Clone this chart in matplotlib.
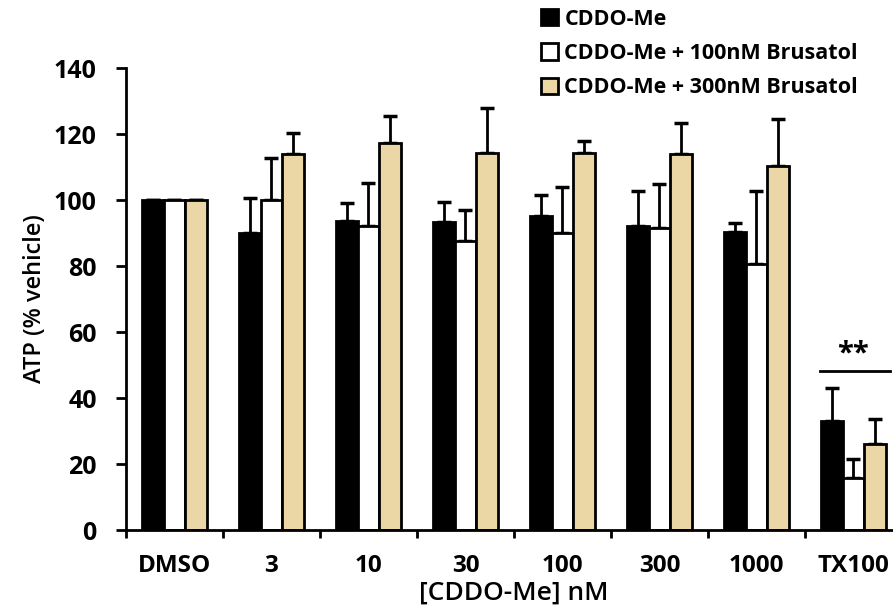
import matplotlib
matplotlib.use("Agg")
import matplotlib.pyplot as plt
import numpy as np

# data
categories = ["DMSO", "3", "10", "30", "100", "300", "1000", "TX100"]
cddo_mean = [100, 90.0, 93.6, 93.3, 95.2, 92.1, 90.2, 33.1]
cddo_err = [0, 10.6, 5.5, 6.1, 6.3, 10.7, 2.7, 9.9]
bru100_mean = [100, 100.0, 92.1, 87.6, 90.0, 91.4, 80.7, 15.8]
bru100_err = [0, 12.7, 13.1, 9.4, 13.9, 13.4, 22.1, 5.6]
bru300_mean = [100, 113.9, 117.3, 114.2, 114.3, 113.9, 110.4, 26.1]
bru300_err = [0, 6.4, 8.2, 13.7, 3.7, 9.3, 14.1, 7.5]
series_names = ["CDDO-Me", "CDDO-Me + 100nM Brusatol", "CDDO-Me + 300nM Brusatol"]

tan = "#EBD6A5"
plt.rcParams['font.family'] = ['Open Sans', 'DejaVu Sans']

fig = plt.figure(figsize=(8.93, 6.13), dpi=100)
ax = fig.add_axes([126 / 893, 83 / 613, 776 / 893, 462 / 613])

x = np.arange(len(categories))
width = 0.22

series = [
    (cddo_mean, cddo_err, "black", series_names[0]),
    (bru100_mean, bru100_err, "white", series_names[1]),
    (bru300_mean, bru300_err, tan, series_names[2]),
]
for i, (mean, err, col, name) in enumerate(series):
    offset = (i - 1) * width
    ax.bar(x + offset, mean, width, color=col, edgecolor="black", linewidth=2,
           label=name, zorder=2)
    ax.errorbar(x + offset, mean, yerr=[np.zeros(len(err)), err], fmt="none",
                ecolor="black", elinewidth=2, capsize=5, capthick=2.5, zorder=1)

# significance marker over TX100
ax.plot([6.65, 7.38], [48.2, 48.2], color="black", lw=2, clip_on=False)
ax.text(6.99, 49, "**", ha="center", va="bottom", fontsize=21, fontweight="bold")

ax.set_xlim(-0.5, 7.5)
ax.set_ylim(0, 140)
ax.set_yticks(np.arange(0, 141, 20))
ax.set_xticks(x)
ax.set_xticklabels(categories)
ax.set_xticks(np.arange(-0.5, 7.6, 1), minor=True)
ax.tick_params(axis="x", which="major", length=0, pad=17, labelsize=17.5)
ax.tick_params(axis="x", which="minor", length=6, width=2, direction="out")
ax.tick_params(axis="y", length=7, width=2, labelsize=18, pad=14)
for lab in ax.get_xticklabels() + ax.get_yticklabels():
    lab.set_fontweight("bold")

for s in ["top", "right"]:
    ax.spines[s].set_visible(False)
for s in ["left", "bottom"]:
    ax.spines[s].set_linewidth(2)

ax.set_ylabel("ATP (% vehicle)", fontsize=17, fontweight="semibold", labelpad=5)
ax.set_xlabel("[CDDO-Me] nM", fontsize=19, fontweight="semibold", labelpad=2)

handles, labels = ax.get_legend_handles_labels()
fig.legend(handles, labels, loc="upper left", bbox_to_anchor=(532 / 893, 1.0),
           frameon=False, prop={"size": 15.5, "weight": "bold"}, borderaxespad=0,
           handlelength=0.8, handleheight=0.8, handletextpad=0.3, labelspacing=0.62)

fig.savefig("out.png", dpi=100)
